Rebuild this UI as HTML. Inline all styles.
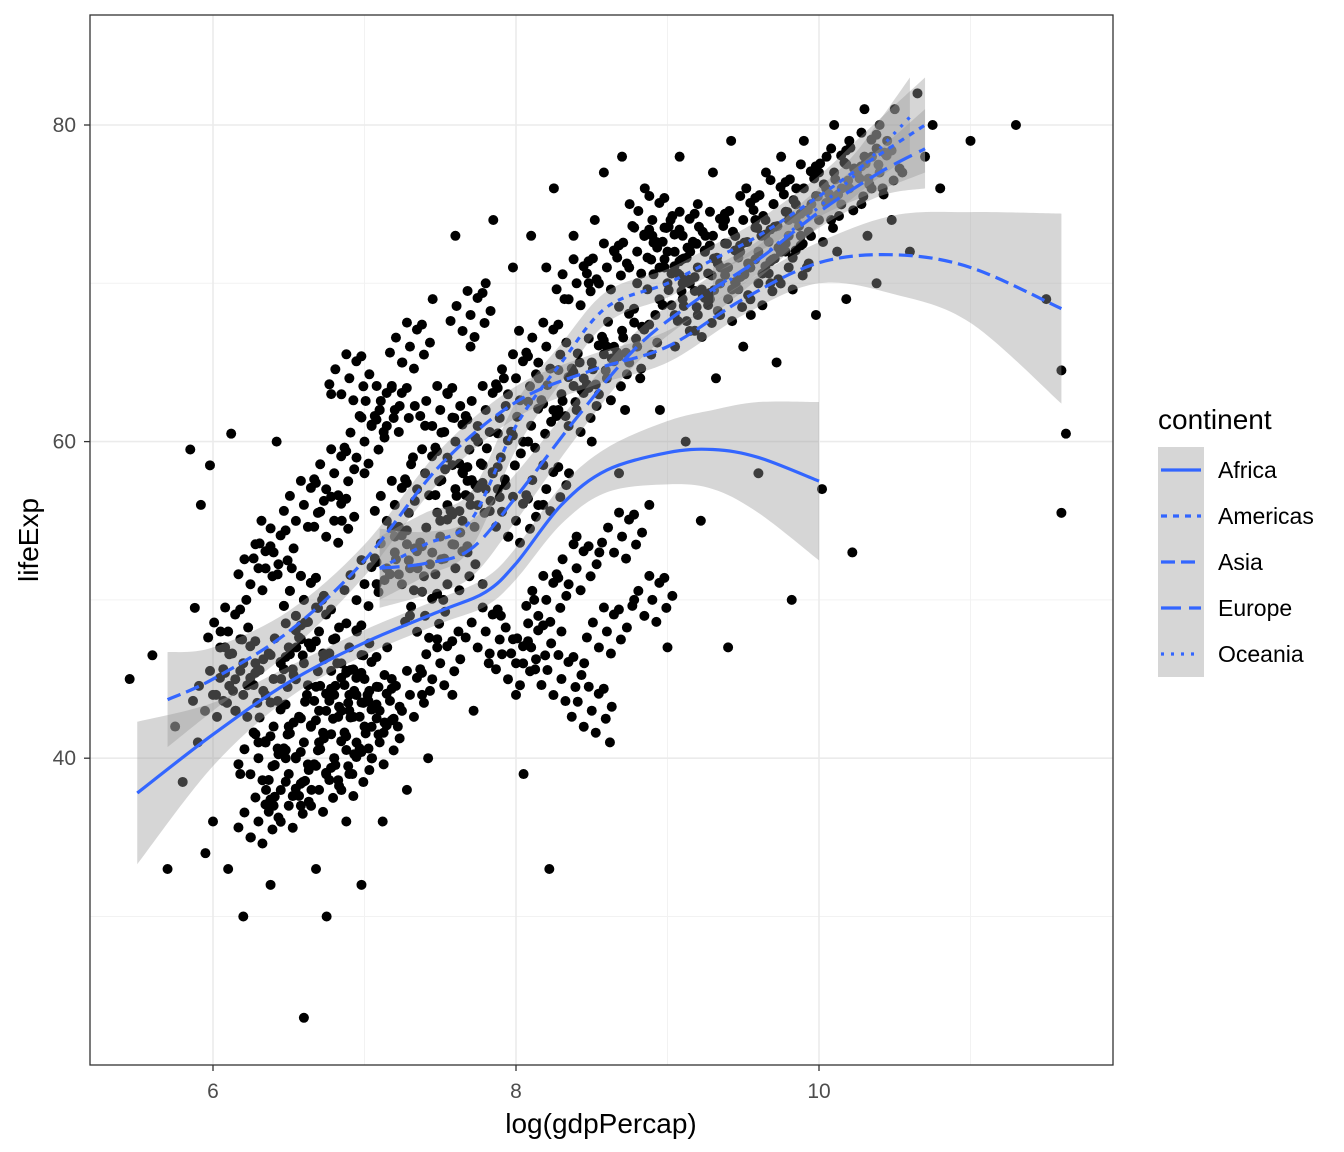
<!DOCTYPE html>
<html><head><meta charset="utf-8"><style>
body{margin:0;background:#fff;}
svg{display:block;font-family:"Liberation Sans",Arial,sans-serif;}
</style></head><body>
<svg id="chart" width="1344" height="1152" viewBox="0 0 1344 1152">
<rect x="0" y="0" width="1344" height="1152" fill="#fff"/>
<g id="grid"></g>
<g id="pts"></g>
<g id="ribbons"></g>
<g id="lines"></g>
<rect x="90" y="15" width="1023" height="1050" fill="none" stroke="#333" stroke-width="1.3"/>
<g id="axes"></g>
<text x="601" y="1133" font-size="28" text-anchor="middle" fill="#000">log(gdpPercap)</text>
<text transform="translate(38,540) rotate(-90)" font-size="28" text-anchor="middle" fill="#000">lifeExp</text>
<g id="legend">
<text x="1158" y="429" font-size="28" fill="#000">continent</text>
</g>
</svg>
<script>
const xTicks=[6,8,10], xMinor=[7,9,11];
const yTicks=[40,60,80], yMinor=[30,50,70];
const series=["Africa","Americas","Asia","Europe","Oceania"];
const dashes=["","6,6","14,6","20,8","3,7"];
const afX=[5.5,6,6.5,7,7.5,7.8,8,8.3,8.6,9,9.3,9.6,10];
const afY=[37.8,41.5,44.8,47.3,49.3,50.5,52.3,56,58.2,59.3,59.5,59,57.5];
const afSE=[4.5,2,1,0.8,0.8,0.9,1,1.2,1.4,2,2.5,3.5,5];
const amX=[7.1,7.4,7.7,8,8.3,8.6,9,9.3,9.6,10,10.3,10.7];
const amY=[52,53.5,55,61,65,68.5,70,71.5,73,75.5,77.5,80];
const amSE=[2,2,1.8,1.5,1.2,1,0.9,0.9,1,1.3,2,3];
const asX=[5.7,6,6.5,7,7.5,8,8.5,9,9.5,10,10.5,11,11.6];
const asY=[43.7,45,48,52.5,58.5,62.5,64.5,66,69,71.3,71.8,71,68.4];
const asSE=[3,2,1.3,1,1,1,1,1,1,1.3,2.5,3.5,6];
const euX=[7.1,7.4,7.7,8,8.4,8.8,9.2,9.6,10,10.4,10.7];
const euY=[52,52.3,53.2,56.5,61.5,66,69,71.5,74.5,77,78.5];
const euSE=[2.5,2,1.8,1.5,1.2,1,0.9,0.9,1,1.5,2.5];
const ocX=[9.3,9.6,9.9,10.2,10.4,10.6];
const ocY=[69.5,71.5,74,76.5,78.5,80.5];
const ocSE=[1.5,1.2,1.2,1.3,1.8,2.5];
const ptX=[5.45,5.6,5.7,5.75,5.8,5.85,5.88,5.9,5.92,5.95,5.98,6.0,6.02,6.05,6.08,6.1,6.12,6.15,6.18,6.2,6.22,6.25,6.28,6.3,6.32,6.35,6.38,6.4,6.42,6.45,6.48,6.5,6.52,6.55,6.58,6.6,6.62,6.65,6.68,6.7,6.72,6.75,6.78,6.8,6.82,6.85,6.88,6.9,6.92,6.95,6.98,7.0,7.02,7.05,7.08,7.1,7.12,7.15,7.18,7.2,7.22,7.25,7.28,7.3,7.32,7.35,7.38,7.4,7.42,7.45,7.48,7.5,7.52,7.55,7.58,7.6,7.62,7.65,7.68,7.7,7.72,7.75,7.78,7.8,7.82,7.85,7.88,7.9,7.92,7.95,7.98,8.0,8.02,8.05,8.08,8.1,8.12,8.15,8.18,8.2,8.22,8.25,8.28,8.3,8.32,8.35,8.38,8.4,8.42,8.45,8.48,8.5,8.52,8.55,8.58,8.6,8.62,8.65,8.68,8.7,8.72,8.75,8.78,8.8,8.82,8.85,8.88,8.9,8.92,8.95,8.98,9.0,9.02,9.05,9.08,9.1,9.12,9.15,9.18,9.2,9.22,9.25,9.28,9.3,9.32,9.35,9.38,9.4,9.42,9.45,9.48,9.5,9.52,9.55,9.58,9.6,9.62,9.65,9.68,9.7,9.72,9.75,9.78,9.8,9.82,9.85,9.88,9.9,9.92,9.95,9.98,10.0,10.02,10.05,10.08,10.1,10.12,10.15,10.18,10.2,10.22,10.25,10.28,10.3,10.32,10.35,10.38,10.4,10.42,10.45,10.48,10.5,10.55,10.6,10.65,10.7,10.75,10.8,11.0,11.3,11.5,11.6,11.63,11.6];
const ptY=[45,46.5,33,42,38.5,59.5,49.5,41,56,34,58.5,36,44,48,47,33,60.5,43,39,30,50,35,46,41,55,38,32,37,60,45,40,42,52,47,37,23.6,44,38,33,41,50,30,63,40,46,55,36,43,39,48,32,58,44,40,51,62,36,47,45,54,42,65,38,49,59,52,44,61,40,69,47,55,50,63,44,73,48,58,53,66,43,60,51,70,46,74,57,49,64,54,71,44,67,39,60,73,50,64,56,71,33,76,62,48,69,58,73,54,65,46,70,60,74,53,77,66,41,72,58,78,62,75,50,70,64,76,56,73,68,62,71,47,74,66,78,70,60,72,67,75,55,73,69,77,64,71,74,47,79,70,72,66,76,68,74,58,73,77,70,75,65,78,72,74,50,76,73,79,71,75,68,77,57,78,74,80,72,76,69,79,53,77,75,81,73,78,70,80,76,79,74,81,77,72,82,78,80,76,79,80,69,64.5,60.5,55.5,58,67.5];
const denseX=[6.3,6.4,6.5,6.6,6.7,6.8,6.9,7.0,6.4,6.5,6.6,6.7,6.8,6.9,7.0,7.1,6.2,6.3,6.5,6.7,6.9,7.1,7.3,7.5,7.2,7.4,7.6,7.8,8.0,8.2,7.3,7.5,7.7,7.9,8.1,8.3,8.5,8.7,8.4,8.6,8.8,9.0,9.1,9.2,8.9,9.0,9.1,9.3,9.5,9.7,9.9,10.1,10.3,9.4,9.6,9.8,10.0,10.2,10.4,9.2,9.4,9.6,9.8,8.8,8.6,8.4,8.2,8.0,7.8,7.6,7.0,7.2,7.4,6.6,6.8,6.0,6.2,8.1,8.3,8.5,6.6,6.8,7.0,7.2,6.9,7.1,7.3,7.5,7.7,7.6,7.8,8.0,8.2,8.4,8.6,8.7,8.9,6.4,6.6,6.1,6.3];
const denseY=[40,42,39,41,43,40,44,42,45,47,46,48,44,47,45,43,44,36,37,38,39,41,44,46,56,58,60,62,64,66,52,54,56,59,61,63,65,67,70,71,72,70,69,71,74,72,73,73,74,75,76,77,78,71,72,73,74,76,77,68,69,70,71,66,64,62,57,55,57,57,51,53,49,50,55,44,46,47,45,43,56,58,60,62,64,62,66,62,68,52,48,46,50,52,48,54,50,53,50,48,52];
const offX=[0,14,-14,7,-8,20,-20,4,-3,12];
const offY=[0,8,-9,-17,16,-4,6,22,-24,-22];
const X=v=>213+(v-6)*151.5, Y=v=>125+(80-v)*15.83;
const NS="http://www.w3.org/2000/svg";
function mk(tag,attrs,parent){const e=document.createElementNS(NS,tag);for(const k in attrs)e.setAttribute(k,attrs[k]);parent.appendChild(e);return e;}
const grid=document.getElementById('grid');
xMinor.forEach(v=>{const l=mk('line',{x1:X(v),x2:X(v),y1:15,y2:1065,stroke:'#f2f2f2','stroke-width':1},grid);

});
yMinor.forEach(v=>{const l=mk('line',{x1:90,x2:1113,y1:Y(v),y2:Y(v),stroke:'#f2f2f2','stroke-width':1},grid);

});
xTicks.forEach(v=>{const l=mk('line',{x1:X(v),x2:X(v),y1:15,y2:1065,stroke:'#ebebeb','stroke-width':1.6},grid);

});
yTicks.forEach(v=>{const l=mk('line',{x1:90,x2:1113,y1:Y(v),y2:Y(v),stroke:'#ebebeb','stroke-width':1.6},grid);

});
const axes=document.getElementById('axes');
xTicks.forEach(v=>{const t=mk('line',{x1:X(v),x2:X(v),y1:1065,y2:1071,stroke:'#333','stroke-width':1.3},axes);


const s=mk('text',{x:X(v),y:1098,'font-size':21,'text-anchor':'middle',fill:'#4d4d4d'},axes);s.textContent=v;

});
yTicks.forEach(v=>{const t=mk('line',{x1:84,x2:90,y1:Y(v),y2:Y(v),stroke:'#333','stroke-width':1.3},axes);


const s=mk('text',{x:76,y:Y(v)+7,'font-size':21,'text-anchor':'end',fill:'#4d4d4d'},axes);s.textContent=v;

});
const pts=document.getElementById('pts');
ptX.forEach((v,i)=>{const c=mk('circle',{cx:X(v),cy:Y(ptY[i]),r:5,fill:'#000'},pts);

});
denseX.forEach((v,i)=>{for(let k=0;k<offX.length;k++){const c=mk('circle',{cx:X(v)+offX[k],cy:Y(denseY[i])+offY[k],r:5,fill:'#000'},pts);

}});
const rib=document.getElementById('ribbons'), lines=document.getElementById('lines');
const SX=[afX,amX,asX,euX,ocX],SY=[afY,amY,asY,euY,ocY],SE=[afSE,amSE,asSE,euSE,ocSE];
function smooth(p){let d=`M${p[0][0]},${p[0][1]}`;for(let i=0;i<p.length-1;i++){const p0=p[i-1]||p[i],p1=p[i],p2=p[i+1],p3=p[i+2]||p2;
d+=` C${p1[0]+(p2[0]-p0[0])/6},${p1[1]+(p2[1]-p0[1])/6} ${p2[0]-(p3[0]-p1[0])/6},${p2[1]-(p3[1]-p1[1])/6} ${p2[0]},${p2[1]}`;}return d;}
series.forEach((s,i)=>{const xs=SX[i],ys=SY[i],se=SE[i];
const up=xs.map((x,j)=>[X(x),Y(ys[j]+se[j])]),lo=xs.map((x,j)=>[X(x),Y(ys[j]-se[j])]).reverse();
const r=mk('path',{d:smooth(up)+' L'+smooth(lo).slice(1)+' Z',fill:'#999',opacity:0.4},rib);


const l=mk('path',{d:smooth(xs.map((x,j)=>[X(x),Y(ys[j])])),fill:'none',stroke:'#3366ff','stroke-width':3.2,'stroke-dasharray':dashes[i]},lines);

});
const leg=document.getElementById('legend');
mk('rect',{x:1158,y:447,width:46,height:230,fill:'#d6d6d6'},leg);
series.forEach((s,i)=>{const y=470+i*46;
const l=mk('line',{x1:1161,x2:1201,y1:y,y2:y,stroke:'#3366ff','stroke-width':3.2,'stroke-dasharray':dashes[i]},leg);


const t=mk('text',{x:1218,y:y+8,'font-size':23,fill:'#000'},leg);t.textContent=s;

});
</script>
</body></html>
